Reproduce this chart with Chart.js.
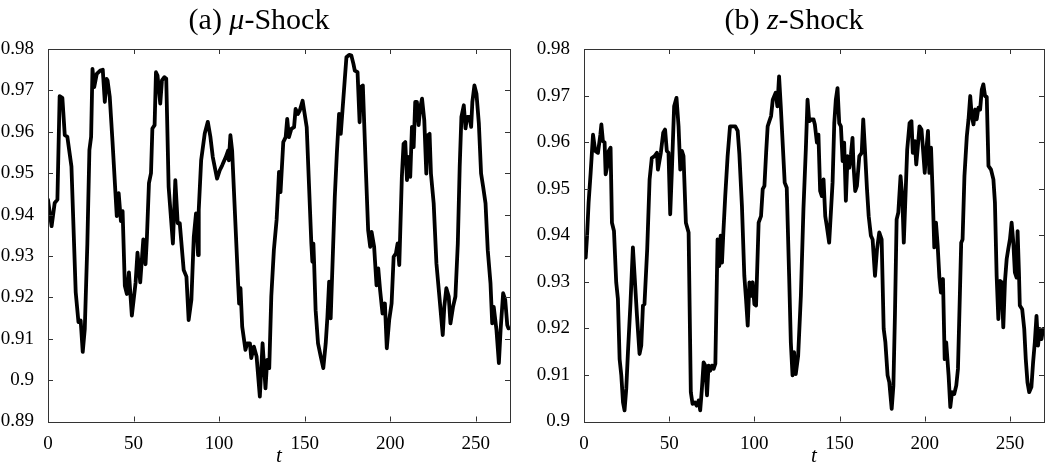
<!DOCTYPE html>
<html>
<head>
<meta charset="utf-8">
<script src="https://cdn.jsdelivr.net/npm/chart.js@4.4.1/dist/chart.umd.min.js"></script>
<style>
  html, body { margin: 0; padding: 0; background: #fff; }
  #wrap { position: relative; width: 1045px; height: 472px; }
  .panel { position: absolute; top: 0; height: 472px; }
</style>
</head>
<body>
<div id="wrap">
  <div class="panel" style="left:0;width:522px"><canvas id="muChart"></canvas></div>
  <div class="panel" style="left:522px;width:523px"><canvas id="zChart"></canvas></div>
</div>
<script>
// (a) mu-shock
var tMu = [0, 2.1, 3.9, 5.5, 6.8, 8.4, 9.8, 11.3, 13.7, 16.2, 17.8, 19.1, 20.3, 21.5, 23, 24.2, 25.2, 26, 27, 28.5,
  30.5, 32, 33.2, 34.2, 34.8, 36.1, 37.7, 40.2, 41.3, 42.6, 43.6, 44.9, 46.1, 47.3, 49, 51.2, 52.3, 53.9, 55.7, 57,
  57.8, 59, 60.2, 61, 62.3, 63.1, 64, 65.6, 66.6, 68, 69.1, 70.5, 73, 74.4, 75.8, 77, 79.3, 80.9, 82.2, 83.8,
  85.2, 86.5, 87.7, 88.1, 89.5, 91.6, 93.4, 94.9, 96.3, 98.8, 100.4, 101.8, 103.9, 105.3, 105.7, 106.6, 107.6, 111.1, 111.7, 112.5,
  113.5, 115.4, 116.4, 118, 118.8, 120.3, 121.9, 123.8, 125.4, 127.1, 128.1, 129.3, 130.5, 132, 133.6, 134.4, 135, 135.9, 137.5, 138.9,
  139.8, 140.8, 142.2, 143.8, 144.7, 146.1, 147.1, 148.8, 150, 151.2, 152.5, 153.9, 154.5, 155.1, 155.5, 156.4, 157.8, 159.4, 160.9, 162.3,
  163.3, 164.3, 165.2, 167.6, 168.8, 170.1, 171.1, 172.1, 173.4, 174.4, 176, 177.3, 178.5, 179.3, 180.9, 182.1, 182.8, 184, 185.7, 187.1,
  188.3, 189.1, 190.6, 192, 193, 194.1, 195.5, 196.9, 198, 199.4, 200.8, 202, 203.3, 204.3, 205.3, 206.8, 207.8, 208.8, 209.8, 210.8,
  211.7, 212.7, 213.7, 214.6, 215.6, 216.6, 217.6, 218.6, 219.9, 221.1, 221.9, 223, 223.8, 225.4, 227, 228.9, 230.7, 231.6, 232.8, 234.2,
  235.2, 236.7, 238.1, 239.5, 240.6, 241.6, 243, 244, 244.9, 246.3, 247.3, 248, 249.2, 250.4, 251.8, 253.1, 254.3, 255.7, 257, 258.6,
  259.6, 260.5, 262.1, 263.5, 264.5, 266, 267.2, 268.4, 269.1];
var muShock = [0.9436, 0.9372, 0.9428, 0.9436, 0.9686, 0.9682, 0.9592, 0.9588, 0.9516, 0.9212, 0.914, 0.9144, 0.9068, 0.9124, 0.933, 0.9556, 0.9588, 0.9752, 0.9708, 0.974,
  0.9748, 0.975, 0.9672, 0.9728, 0.9724, 0.9684, 0.9576, 0.9396, 0.9452, 0.9384, 0.9408, 0.9228, 0.9208, 0.926, 0.9156, 0.9236, 0.9308, 0.9236, 0.934, 0.928,
  0.9344, 0.9476, 0.95, 0.9608, 0.9616, 0.9744, 0.9736, 0.9668, 0.9724, 0.9732, 0.9728, 0.9467, 0.933, 0.9483, 0.9379, 0.9379, 0.9266, 0.925, 0.9145, 0.9194,
  0.9346, 0.9403, 0.9302, 0.9411, 0.9531, 0.9596, 0.9624, 0.9588, 0.9539, 0.9487, 0.9507, 0.9519, 0.9539, 0.9555, 0.9531, 0.9592, 0.9555, 0.9234, 0.9185, 0.9222,
  0.9129, 0.9073, 0.9089, 0.9089, 0.9053, 0.9081, 0.9057, 0.896, 0.9089, 0.898, 0.9049, 0.9029, 0.9202, 0.9314, 0.9387, 0.9451, 0.9503, 0.9454, 0.9575, 0.9587,
  0.9631, 0.9587, 0.9607, 0.9611, 0.9655, 0.9643, 0.9651, 0.9675, 0.9643, 0.9611, 0.9475, 0.933, 0.9286, 0.933, 0.9286, 0.9169, 0.9089, 0.9057, 0.9029, 0.9089,
  0.9153, 0.9238, 0.9149, 0.9442, 0.9547, 0.9643, 0.9595, 0.9651, 0.9724, 0.978, 0.9786, 0.9784, 0.9764, 0.9748, 0.9744, 0.9623, 0.9708, 0.9712, 0.9515, 0.9362,
  0.9322, 0.9358, 0.9322, 0.9229, 0.927, 0.9217, 0.9161, 0.9185, 0.9077, 0.9145, 0.9185, 0.9298, 0.9306, 0.933, 0.9278, 0.9491, 0.9571, 0.9575, 0.9483, 0.9539,
  0.9491, 0.9612, 0.9563, 0.9672, 0.9672, 0.9616, 0.966, 0.968, 0.9628, 0.9499, 0.9591, 0.9595, 0.9499, 0.9427, 0.9282, 0.9194, 0.9109, 0.9177, 0.9222, 0.9202,
  0.9137, 0.9177, 0.9202, 0.933, 0.9515, 0.9636, 0.9664, 0.9608, 0.9636, 0.9636, 0.9612, 0.9672, 0.9712, 0.9692, 0.962, 0.9499, 0.9467, 0.9427, 0.9314, 0.9234,
  0.9137, 0.9177, 0.9121, 0.9041, 0.9121, 0.921, 0.9194, 0.9133, 0.9125];

// (b) z-shock
var tZ = [0, 1, 1.8, 2.7, 3.9, 5.3, 6.6, 8.2, 9.6, 10.2, 11.1, 12.1, 12.7, 13.7, 14.5, 15.6, 16.4, 17.6, 18.9, 19.9,
  20.9, 21.9, 22.9, 23.8, 24.8, 25.8, 27.3, 28.7, 29.7, 31.1, 32.6, 33.6, 34.6, 35.5, 37.1, 38.5, 39.8, 41.4, 42.8, 43.4,
  45.1, 46.5, 47.6, 48.6, 49.6, 50.6, 51.6, 52.9, 54.3, 55.5, 56.5, 57.5, 58.4, 59.8, 61.4, 62.7, 63.7, 65.1, 66.1, 67.3,
  68.2, 69.2, 70.2, 71.2, 72.2, 73.1, 74.1, 75.1, 76.1, 77.1, 78.4, 79.4, 80.2, 81, 81.8, 82.9, 84.3, 85.7, 87.3, 88.8,
  90.2, 91.2, 92.7, 94.1, 95.1, 96.1, 97.1, 98, 99, 100, 101, 102.5, 103.9, 104.9, 105.9, 106.9, 107.8, 108.8, 109.8, 110.8,
  112.5, 113.5, 114.5, 115.5, 116.5, 117.8, 119, 120.4, 121.4, 122.4, 123.3, 124.3, 125.7, 127.3, 128.8, 130.2, 131.2, 132.2, 133.5, 134.7,
  135.5, 136.7, 137.6, 138.6, 139.6, 140.6, 141.6, 142.5, 143.9, 145.9, 146.9, 147.8, 148.8, 149.8, 150.8, 151.8, 152.7, 153.7, 154.7, 155.7,
  156.7, 157.6, 158.2, 159.2, 160.2, 161.6, 163, 163.9, 164.9, 166.1, 167.1, 168.4, 169.4, 170.8, 172, 173.3, 174.7, 175.9, 176.9, 178.2,
  179.2, 180.6, 181.6, 182.5, 183.5, 184.5, 185.8, 186.8, 187.7, 188.7, 189.7, 191.1, 192.2, 193, 194.2, 195, 195.9, 196.9, 198.1, 199,
  200, 200.8, 201.9, 202.7, 203.7, 204.7, 205.6, 206.6, 207.6, 208.6, 209.5, 210.7, 211.7, 212.6, 214, 215, 216, 217.3, 218.5, 219.5,
  220.4, 221.4, 222.2, 223.3, 224.7, 225.7, 226.7, 227.6, 228.6, 229.6, 230.5, 231.5, 232.5, 233.5, 234.4, 235.4, 236.4, 237.4, 238.9, 240.3,
  241.2, 242.2, 243.2, 244.2, 245.1, 246.1, 247.1, 248.1, 249, 250, 251, 252, 252.9, 253.9, 254.5, 255.3, 255.8, 257.2, 258.4, 259.3,
  260.3, 261.3, 262.6, 263.6, 264.6, 265.6, 266.5, 267.5, 268.5, 269.5];
var zShock = [0.9366, 0.9352, 0.9399, 0.947, 0.9534, 0.9616, 0.9581, 0.9577, 0.9616, 0.9638, 0.9602, 0.9599, 0.9531, 0.9549, 0.9581, 0.9588, 0.9427, 0.9409, 0.9299, 0.9263,
  0.9134, 0.9099, 0.9041, 0.9024, 0.907, 0.9149, 0.9256, 0.9374, 0.9313, 0.9227, 0.9145, 0.9163, 0.9249, 0.9252, 0.937, 0.952, 0.9566, 0.957, 0.9577, 0.9541,
  0.9577, 0.962, 0.9627, 0.9581, 0.9577, 0.9445, 0.9541, 0.9677, 0.9695, 0.9634, 0.9541, 0.9581, 0.957, 0.9427, 0.9406, 0.9063, 0.9038, 0.9041, 0.9034, 0.9045,
  0.9024, 0.907, 0.9127, 0.912, 0.9056, 0.912, 0.9109, 0.912, 0.9113, 0.9124, 0.9391, 0.9334, 0.9399, 0.9341, 0.9406, 0.9484, 0.957, 0.9634, 0.9634, 0.9634,
  0.9624, 0.9574, 0.9463, 0.9313, 0.9263, 0.9206, 0.9299, 0.927, 0.9299, 0.9252, 0.9249, 0.9427, 0.9441, 0.9499, 0.9506, 0.9577, 0.9634, 0.9645, 0.9656, 0.9691,
  0.9706, 0.9677, 0.9741, 0.9677, 0.9606, 0.9513, 0.9502, 0.9313, 0.917, 0.9099, 0.9149, 0.9102, 0.9141, 0.927, 0.9456, 0.9584, 0.9691, 0.9645, 0.9649, 0.9649,
  0.9638, 0.9599, 0.9616, 0.9495, 0.9484, 0.952, 0.9441, 0.942, 0.9384, 0.9513, 0.9641, 0.9691, 0.9716, 0.9641, 0.9634, 0.9559, 0.9599, 0.9474, 0.957, 0.9545,
  0.9574, 0.9609, 0.9549, 0.9495, 0.9506, 0.957, 0.9577, 0.9649, 0.9584, 0.9499, 0.9441, 0.9399, 0.9391, 0.9313, 0.937, 0.9406, 0.9391, 0.9199, 0.917, 0.9099,
  0.9084, 0.9027, 0.9077, 0.9227, 0.9434, 0.9449, 0.9527, 0.9484, 0.9384, 0.9484, 0.9584, 0.9641, 0.9645, 0.9577, 0.9602, 0.9552, 0.9588, 0.9634, 0.9627, 0.9584,
  0.9534, 0.9577, 0.9624, 0.9534, 0.9588, 0.9484, 0.9374, 0.9427, 0.9377, 0.9309, 0.9277, 0.9306, 0.9134, 0.917, 0.9099, 0.9031, 0.9063, 0.9059, 0.9077, 0.9113,
  0.9241, 0.9384, 0.9391, 0.9527, 0.9613, 0.9649, 0.9699, 0.9656, 0.9638, 0.967, 0.9649, 0.9674, 0.967, 0.9713, 0.9724, 0.9699, 0.9697, 0.9549, 0.9541, 0.952,
  0.947, 0.9313, 0.922, 0.9302, 0.9299, 0.9202, 0.9302, 0.9349, 0.937, 0.9391, 0.9427, 0.9384, 0.932, 0.9309, 0.9409, 0.932, 0.9249, 0.9241, 0.9199, 0.9134,
  0.9084, 0.9063, 0.9074, 0.9127, 0.917, 0.9227, 0.9163, 0.9199, 0.9177, 0.9199];

var xTicks = [0, 50, 100, 150, 200, 250];
var yTicksMu = [0.89, 0.9, 0.91, 0.92, 0.93, 0.94, 0.95, 0.96, 0.97, 0.98];
var yTicksZ = [0.9, 0.91, 0.92, 0.93, 0.94, 0.95, 0.96, 0.97, 0.98];

Chart.defaults.font.family = "'Liberation Serif', 'Times New Roman', serif";
Chart.defaults.font.size = 19;
Chart.defaults.color = "#000";

// box, inward ticks on all four sides, and the panel title
var framePlugin = {
  id: "frame",
  afterDraw: function (chart, args, opts) {
    var ctx = chart.ctx;
    var a = chart.chartArea;
    var x = chart.scales.x;
    var y = chart.scales.y;
    ctx.save();
    ctx.strokeStyle = "#333";
    ctx.lineWidth = 1;
    ctx.beginPath();
    x.ticks.forEach(function (t) {
      var px = Math.round(x.getPixelForValue(t.value)) + 0.5;
      ctx.moveTo(px, a.bottom);
      ctx.lineTo(px, a.bottom - 5);
      ctx.moveTo(px, a.top);
      ctx.lineTo(px, a.top + 5);
    });
    y.ticks.forEach(function (t) {
      var py = Math.round(y.getPixelForValue(t.value)) + 0.5;
      ctx.moveTo(a.left, py);
      ctx.lineTo(a.left + 5, py);
      ctx.moveTo(a.right, py);
      ctx.lineTo(a.right - 5, py);
    });
    ctx.stroke();
    ctx.strokeRect(Math.round(a.left) + 0.5, Math.round(a.top) + 0.5,
      Math.round(a.right - a.left), Math.round(a.bottom - a.top));

    // title in pieces so the symbol can be italic
    var size = 30;
    var fam = "'Liberation Serif', 'Times New Roman', serif";
    var widths = opts.parts.map(function (p) {
      ctx.font = (p[1] ? "italic " : "") + size + "px " + fam;
      return ctx.measureText(p[0]).width;
    });
    var total = widths.reduce(function (s, w) { return s + w; }, 0);
    var cx = (a.left + a.right) / 2 - 20;
    var tx = cx - total / 2;
    ctx.fillStyle = "#000";
    ctx.textBaseline = "middle";
    ctx.textAlign = "left";
    opts.parts.forEach(function (p, i) {
      ctx.font = (p[1] ? "italic " : "") + size + "px " + fam;
      ctx.fillText(p[0], tx, 21);
      tx += widths[i];
    });
    ctx.restore();
  }
};

function makePanel(canvasId, ts, vals, yTicks, yMin, titleParts, yWidth, padRight) {
  new Chart(document.getElementById(canvasId), {
    type: "line",
    data: {
      datasets: [
        {
          data: ts.map(function (t, i) { return { x: t, y: vals[i] }; }),
          borderColor: "#000",
          borderWidth: 3.8,
          pointRadius: 0,
          tension: 0,
          borderJoinStyle: "round",
          borderCapStyle: "round",
        },
      ],
    },
    options: {
      responsive: true,
      maintainAspectRatio: false,
      animation: false,
      layout: { padding: { top: 49, right: padRight, left: 0, bottom: 0 } },
      plugins: {
        legend: { display: false },
        tooltip: { enabled: false },
        frame: { parts: titleParts },
      },
      scales: {
        x: {
          type: "linear",
          min: 0,
          max: 270,
          grid: { display: false },
          border: { display: false },
          afterBuildTicks: function (s) { s.ticks = xTicks.map(function (v) { return { value: v }; }); },
          afterFit: function (s) { s.height = 50.5; },
          ticks: { padding: 3, maxRotation: 0, autoSkip: false },
          title: { display: true, text: "t", font: { size: 21, style: "italic" }, padding: { top: 0, bottom: 3 } },
        },
        y: {
          min: yMin,
          max: 0.98,
          grid: { display: false },
          border: { display: false },
          afterBuildTicks: function (s) { s.ticks = yTicks.map(function (v) { return { value: v }; }); },
          afterFit: function (s) { s.width = yWidth; },
          ticks: {
            padding: 6,
            autoSkip: false,
            callback: function (v) { return String(Math.round(v * 100) / 100); },
          },
        },
      },
    },
    plugins: [framePlugin],
  });
}

makePanel("muChart", tMu, muShock, yTicksMu, 0.89, [["(a) ", false], ["\u03bc", true], ["-Shock", false]], 48, 12);
makePanel("zChart", tZ, zShock, yTicksZ, 0.9, [["(b) ", false], ["z", true], ["-Shock", false]], 62, 1);
</script>
</body>
</html>
